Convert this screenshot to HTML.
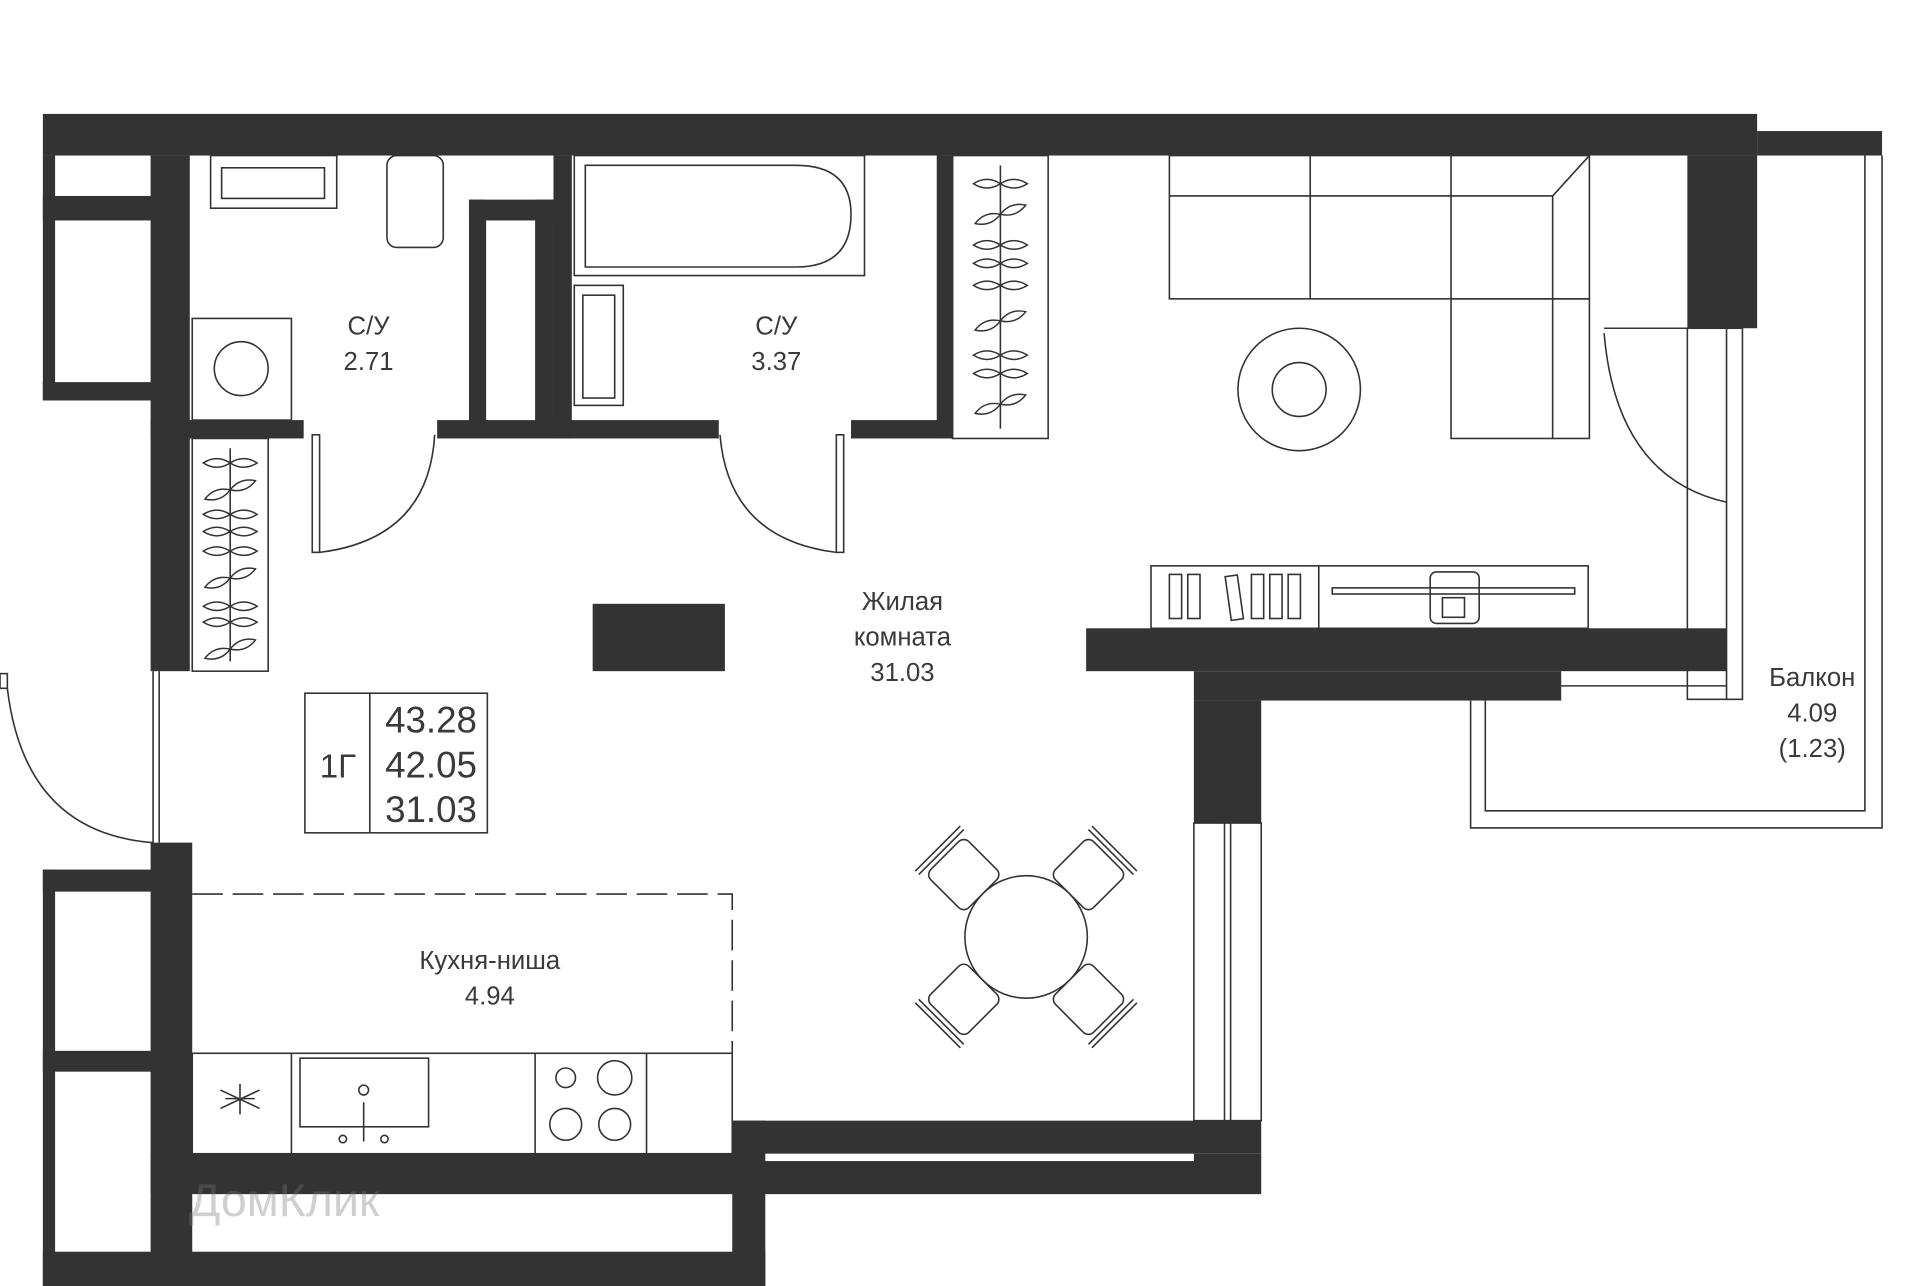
<!DOCTYPE html>
<html><head><meta charset="utf-8"><style>
html,body{margin:0;padding:0;background:#fff;}
svg{display:block;}
text{font-family:"Liberation Sans",sans-serif;fill:#3a3a3a;text-anchor:middle;}
</style></head><body>
<svg width="1920" height="1286" viewBox="0 0 1568 1050" preserveAspectRatio="none" xmlns="http://www.w3.org/2000/svg">
<defs>
<g id="hg"><path d="M-22 0 Q-11 -7 0 0 Q11 7 22 0 Q11 -7 0 0 Q-11 7 -22 0Z" fill="none" stroke="#333" stroke-width="1.2"/></g>
<g id="chair"><rect x="-22" y="-22" width="44" height="44" rx="6" fill="#fff" stroke="#333" stroke-width="1.3"/><line x1="-26" y1="-26" x2="26" y2="-26" stroke="#333" stroke-width="1.3"/><line x1="-26" y1="-30" x2="26" y2="-30" stroke="#333" stroke-width="1.3"/></g>
</defs>
<g fill="#333">
<rect x="35" y="93" width="1400" height="34"/>
<rect x="1435" y="107" width="102" height="20"/>
<rect x="1378" y="127" width="57" height="141"/>
<rect x="35" y="127" width="10" height="200"/>
<rect x="35" y="160" width="90" height="20"/>
<rect x="35" y="312" width="90" height="15"/>
<rect x="123" y="127" width="32" height="421"/>
<rect x="123" y="343" width="125" height="15"/>
<rect x="123" y="688" width="34" height="362"/>
<rect x="35" y="710" width="10" height="340"/>
<rect x="35" y="710" width="90" height="18"/>
<rect x="35" y="858" width="90" height="17"/>
<rect x="35" y="1022" width="590" height="28"/>
<rect x="598" y="915" width="27" height="135"/>
<rect x="123" y="942" width="907" height="33"/>
<rect x="598" y="915" width="432" height="27"/>
<rect x="357" y="343" width="230" height="15"/>
<rect x="383" y="163" width="69" height="17"/>
<rect x="383" y="163" width="14" height="182"/>
<rect x="437" y="163" width="15" height="182"/>
<rect x="452" y="127" width="15" height="231"/>
<rect x="695" y="343" width="83" height="15"/>
<rect x="765" y="127" width="13" height="231"/>
<rect x="484" y="493" width="108" height="55"/>
<rect x="887" y="513" width="523" height="35"/>
<rect x="975" y="548" width="300" height="24"/>
<rect x="975" y="572" width="55" height="100"/>
</g>
<rect x="625" y="942" width="350" height="6" fill="#fff"/>
<g fill="none" stroke="#333" stroke-width="1.3">
<rect x="975" y="672" width="55" height="243"/><line x1="1000" y1="672" x2="1000" y2="915"/><line x1="1005" y1="672" x2="1005" y2="915"/>
<line x1="125" y1="548" x2="125" y2="688"/><line x1="130" y1="548" x2="130" y2="688"/>
<polyline points="1523,127 1523,662 1213,662 1213,572"/>
<polyline points="1537,127 1537,676 1201,676 1201,572"/>
<rect x="1378" y="268" width="45" height="303"/><line x1="1410" y1="268" x2="1410" y2="571"/>
<line x1="1275" y1="560" x2="1410" y2="560"/>
<path d="M1310 272 Q1320 390 1410 410"/><line x1="1310" y1="268" x2="1378" y2="268"/>
<rect x="255" y="355" width="6" height="96"/><path d="M261 451 Q350 440 355 355"/>
<rect x="683" y="355" width="6" height="96"/><path d="M683 451 Q595 440 588 355"/>
<rect x="0" y="550" width="6" height="12"/><path d="M6 562 Q20 680 125 688"/>
<rect x="172" y="127" width="103" height="43"/><rect x="181" y="137" width="84" height="25"/>
<rect x="316" y="127" width="46" height="75" rx="8"/>
<rect x="157" y="260" width="81" height="83"/><circle cx="197" cy="301" r="22"/>
<rect x="469" y="127" width="237" height="98"/>
<path d="M478 135 H650 Q695 135 695 175 Q695 218 650 218 H478 Z"/>
<rect x="469" y="233" width="40" height="98"/><rect x="476" y="241" width="26" height="84"/>
<rect x="778" y="127" width="78" height="231"/><line x1="817" y1="135" x2="817" y2="350"/>
<rect x="157" y="358" width="62" height="190"/><line x1="188" y1="366" x2="188" y2="540"/>
<rect x="955" y="127" width="343" height="117"/>
<line x1="955" y1="160" x2="1268" y2="160"/><line x1="1070" y1="127" x2="1070" y2="244"/><line x1="1185" y1="127" x2="1185" y2="244"/>
<rect x="1185" y="244" width="113" height="114"/><line x1="1268" y1="160" x2="1268" y2="358"/><line x1="1268" y1="160" x2="1298" y2="127"/>
<circle cx="1061" cy="318" r="50"/><circle cx="1061" cy="318" r="22"/>
<rect x="940" y="462" width="357" height="51"/><line x1="1077" y1="462" x2="1077" y2="513"/>
<rect x="955" y="469" width="10" height="36"/><rect x="970" y="469" width="10" height="36"/><rect x="1003" y="470" width="10" height="36" transform="rotate(-8 1008 488)"/><rect x="1022" y="469" width="10" height="36"/><rect x="1037" y="469" width="10" height="36"/><rect x="1052" y="469" width="10" height="36"/>
<rect x="1088" y="480" width="198" height="5"/><rect x="1168" y="467" width="40" height="42" rx="5"/><rect x="1178" y="488" width="18" height="16"/>
</g>
<g transform="translate(817,0)"><use href="#hg" y="150"/><use href="#hg" y="175" transform="rotate(-20 0 175)"/><use href="#hg" y="200"/><use href="#hg" y="215"/><use href="#hg" y="233"/><use href="#hg" y="262" transform="rotate(-20 0 262)"/><use href="#hg" y="290"/><use href="#hg" y="305"/><use href="#hg" y="330" transform="rotate(-20 0 330)"/></g>
<g transform="translate(188,0)"><use href="#hg" y="378"/><use href="#hg" y="400" transform="rotate(-20 0 400)"/><use href="#hg" y="420"/><use href="#hg" y="434"/><use href="#hg" y="450"/><use href="#hg" y="472" transform="rotate(-20 0 472)"/><use href="#hg" y="495"/><use href="#hg" y="508"/><use href="#hg" y="530" transform="rotate(-20 0 530)"/></g>
<g transform="translate(838,765)">
<use href="#chair" transform="rotate(-45) translate(0,-72)"/>
<use href="#chair" transform="rotate(45) translate(0,-72)"/>
<use href="#chair" transform="rotate(135) translate(0,-72)"/>
<use href="#chair" transform="rotate(-135) translate(0,-72)"/>
<circle r="50" fill="#fff" stroke="#333" stroke-width="1.3"/>
</g>
<g fill="none" stroke="#333" stroke-width="1.3">
<path d="M157 730 H598 V860" stroke-dasharray="25 8"/>
<rect x="157" y="860" width="441" height="82"/>
<line x1="238" y1="860" x2="238" y2="942"/><line x1="437" y1="860" x2="437" y2="942"/><line x1="528" y1="860" x2="528" y2="942"/>
<rect x="245" y="864" width="105" height="56"/>
<line x1="297" y1="900" x2="297" y2="932"/><circle cx="297" cy="890" r="4"/><circle cx="280" cy="930" r="3"/><circle cx="314" cy="930" r="3"/>
<circle cx="462" cy="880" r="8"/><circle cx="502" cy="880" r="14"/><circle cx="462" cy="918" r="13"/><circle cx="502" cy="918" r="13"/>
<path d="M180 905 L212 890 M180 890 L212 905 M196 885 V910 M184 897 H208"/>
<rect x="249" y="566" width="149" height="114"/><line x1="302" y1="566" x2="302" y2="680"/>
</g>
<text x="301" y="273" font-size="21">С/У</text><text x="301" y="302" font-size="21">2.71</text>
<text x="634" y="273" font-size="21">С/У</text><text x="634" y="302" font-size="21">3.37</text>
<text x="737" y="498" font-size="21">Жилая</text><text x="737" y="527" font-size="21">комната</text><text x="737" y="556" font-size="21">31.03</text>
<text x="400" y="791" font-size="21">Кухня-ниша</text><text x="400" y="820" font-size="21">4.94</text>
<text x="1480" y="560" font-size="21">Балкон</text><text x="1480" y="589" font-size="21">4.09</text><text x="1480" y="618" font-size="21">(1.23)</text>
<text x="276" y="635" font-size="27">1Г</text>
<text x="352" y="598" font-size="30">43.28</text><text x="352" y="635" font-size="30">42.05</text><text x="352" y="671" font-size="30">31.03</text>
<text x="232" y="993" font-size="38" style="fill:#777;opacity:0.35">ДомКлик</text>
</svg>
</body></html>
